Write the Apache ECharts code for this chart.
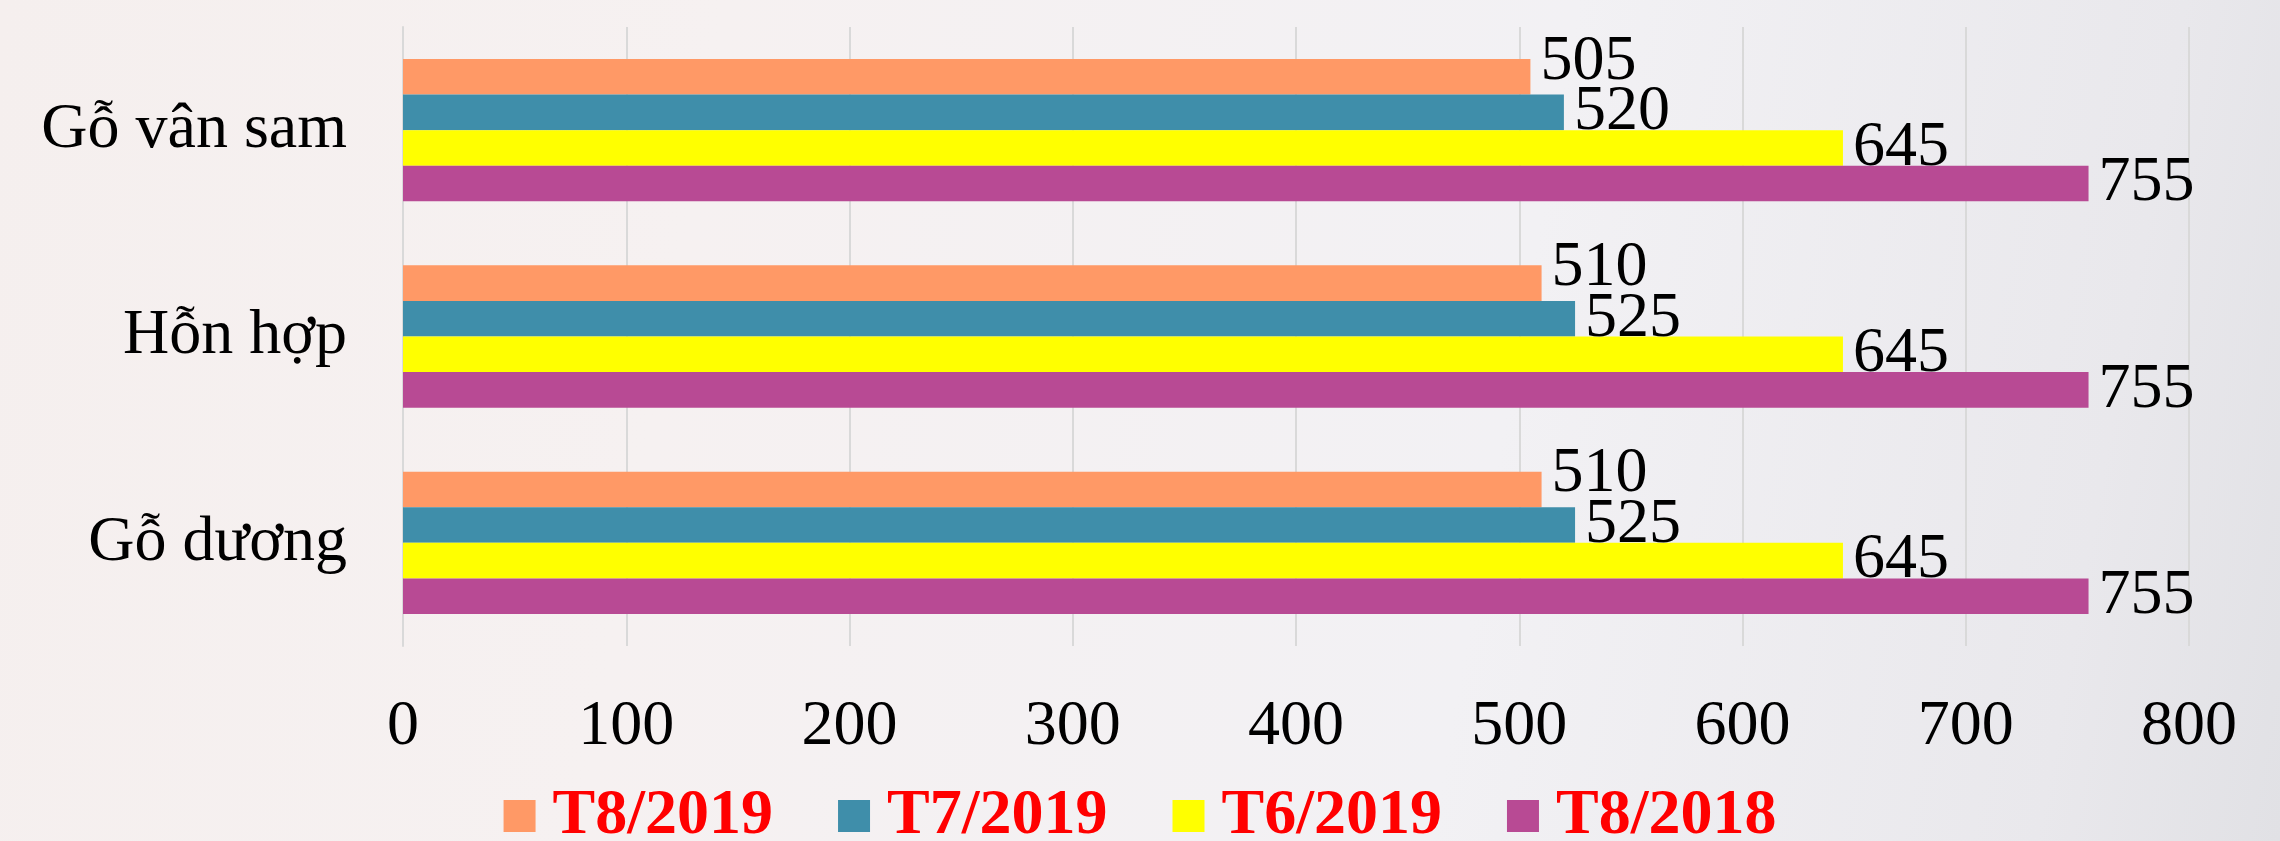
<!DOCTYPE html>
<html>
<head>
<meta charset="utf-8">
<script src="https://cdn.jsdelivr.net/npm/echarts@6/dist/echarts.min.js"></script>
<style>
html,body{margin:0;padding:0;width:2280px;height:841px;overflow:hidden;}
body{background:linear-gradient(100deg,#f5efee 0%,#f6f1f1 30%,#f2f1f4 65%,#e9e8ec 90%,#e1e1e5 100%);}
#c{width:2280px;height:841px;}
</style>
</head>
<body>
<div id="c"></div>
<script>
const categories = ['Gỗ vân sam', 'Hỗn hợp', 'Gỗ dương'];
const seriesNames = ['T8/2019', 'T7/2019', 'T6/2019', 'T8/2018'];
const t8_2019 = [505, 510, 510];
const t7_2019 = [520, 525, 525];
const t6_2019 = [645, 645, 645];
const t8_2018 = [755, 755, 755];
const xTicks = [0, 100, 200, 300, 400, 500, 600, 700, 800];

const colors = ['#FF9966', '#3F8EAA', '#FFFF00', '#B84A94'];
const values = [t8_2019, t7_2019, t6_2019, t8_2018];
const labelOffsets = [[0, -15], [0, 0], [0, 0], [0, 0]];
const FONT = '"Liberation Serif", "Times New Roman", serif';

const chart = echarts.init(document.getElementById('c'), null, {renderer: 'canvas'});
chart.setOption({
  backgroundColor: 'transparent',
  animation: false,
  color: colors,
  grid: {left: 403, right: 91, top: 27, bottom: 195, containLabel: false},
  legend: {
    data: seriesNames,
    left: 'center',
    top: 779,
    itemWidth: 32,
    itemHeight: 32,
    itemGap: 65,
    icon: 'rect',
    textStyle: {fontFamily: FONT, fontSize: 64, fontWeight: 'bold', color: '#FF0000', padding: [0, 0, 0, 12]}
  },
  xAxis: {
    type: 'value',
    min: xTicks[0],
    max: xTicks[xTicks.length - 1],
    interval: 100,
    axisLine: {show: false},
    axisTick: {show: false},
    splitLine: {show: true, lineStyle: {color: '#d9d9d9', width: 2}},
    axisLabel: {fontFamily: FONT, fontSize: 64, color: '#000', margin: 49}
  },
  yAxis: {
    type: 'category',
    data: categories,
    inverse: true,
    axisLine: {show: true, lineStyle: {color: '#d9d9d9', width: 2}},
    axisTick: {show: false},
    axisLabel: {fontFamily: FONT, fontSize: 64, color: '#000', margin: 56}
  },
  series: seriesNames.map((n, i) => ({
    name: n,
    type: 'bar',
    data: values[i],
    barGap: '0%',
    barCategoryGap: '31%',
    itemStyle: {color: colors[i]},
    label: {
      show: true,
      position: 'right',
      distance: 10,
      offset: labelOffsets[i],
      fontFamily: FONT,
      fontSize: 64,
      color: '#000'
    }
  }))
});
</script>
</body>
</html>
